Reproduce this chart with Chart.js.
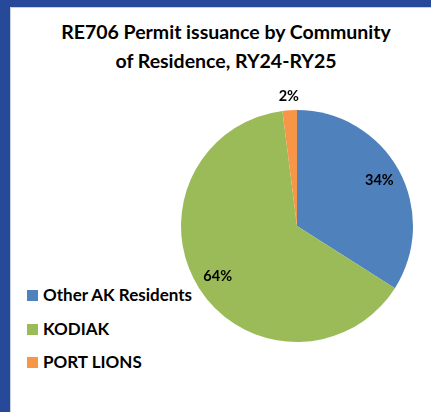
<!DOCTYPE html>
<html>
<head>
<meta charset="utf-8">
<script src="https://cdn.jsdelivr.net/npm/chart.js@4"></script>
<style>
    html, body { margin: 0; padding: 0; }
    body { width: 431px; height: 412px; position: relative; overflow: hidden; background: #27499a; font-family: Lato, "Open Sans", sans-serif; }
    .panel { position: absolute; left: 10px; top: 7px; right: 0; bottom: 0; background: #fff; border-left: 1px solid #c9ced8; border-top: 1px solid #c9ced8; }
    #title { position: absolute; left: 20px; top: 17px; width: 412px; text-align: center; font-weight: bold; font-size: 19.5px; line-height: 29px; color: #000; }
    #legend { position: absolute; left: 27px; top: 286px; }
    .item { height: 33.5px; display: flex; align-items: flex-start; font-weight: bold; font-size: 17px; color: #000; }
    .item span.box { width: 11px; height: 11px; margin-top: 4px; margin-right: 5px; }
    .item span.txt { line-height: 18px; }
    #pie { position: absolute; left: 163px; top: 90px; }
</style>
</head>
<body>
<div class="panel"></div>
<div id="title"></div>
<div id="legend"></div>
<canvas id="pie" width="268" height="272"></canvas>

<script>
// ================================================
// RE706 permit issuance by community - pie chart
// ================================================

const titleLines = ['RE706 Permit issuance by Community', 'of Residence, RY24-RY25'];
const communities = ['Other AK Residents', 'KODIAK', 'PORT LIONS'];
const permitShare = [34, 64, 2];   // percent of permits
const sliceColors = ['#4f81bd', '#9bbb59', '#f79646'];

// Title
document.getElementById('title').innerHTML = titleLines.join('<br>');

// Legend (drawn in HTML so it can sit below the pie's left edge)
const legendEl = document.getElementById('legend');
communities.forEach((name, i) => {
    const row = document.createElement('div');
    row.className = 'item';
    row.innerHTML = `<span class="box" style="background:${sliceColors[i]}"></span><span class="txt">${name}</span>`;
    legendEl.appendChild(row);
});

// Percent labels: inside big slices, just outside the small one
const pctLabels = {
    id: 'pctLabels',
    afterDatasetsDraw(chart) {
        const ctx = chart.ctx;
        const meta = chart.getDatasetMeta(0);
        const data = chart.data.datasets[0].data;
        const total = data.reduce((a, b) => a + b, 0);

        ctx.save();
        ctx.font = 'bold 14.5px Lato, "Open Sans", sans-serif';
        ctx.fillStyle = '#000';
        ctx.textAlign = 'center';
        ctx.textBaseline = 'middle';

        meta.data.forEach((arc, i) => {
            const share = data[i] / total;
            const mid = (arc.startAngle + arc.endAngle) / 2;
            const dist = share < 0.05 ? arc.outerRadius + 14 : arc.outerRadius * 0.81;
            const x = arc.x + Math.cos(mid) * dist;
            const y = arc.y + Math.sin(mid) * dist;
            ctx.fillText(Math.round(share * 100) + '%', x, y);
        });
        ctx.restore();
    }
};

const pieChart = new Chart(document.getElementById('pie'), {
    type: 'pie',
    data: {
        labels: communities,
        datasets: [{
            data: permitShare,
            backgroundColor: sliceColors,
            borderWidth: 0
        }]
    },
    options: {
        responsive: false,
        animation: false,
        devicePixelRatio: 1,
        layout: { padding: 18 },
        plugins: {
            legend: { display: false },
            title: { display: false },
            tooltip: { enabled: false }
        }
    },
    plugins: [pctLabels]
});
</script>
</body>
</html>
